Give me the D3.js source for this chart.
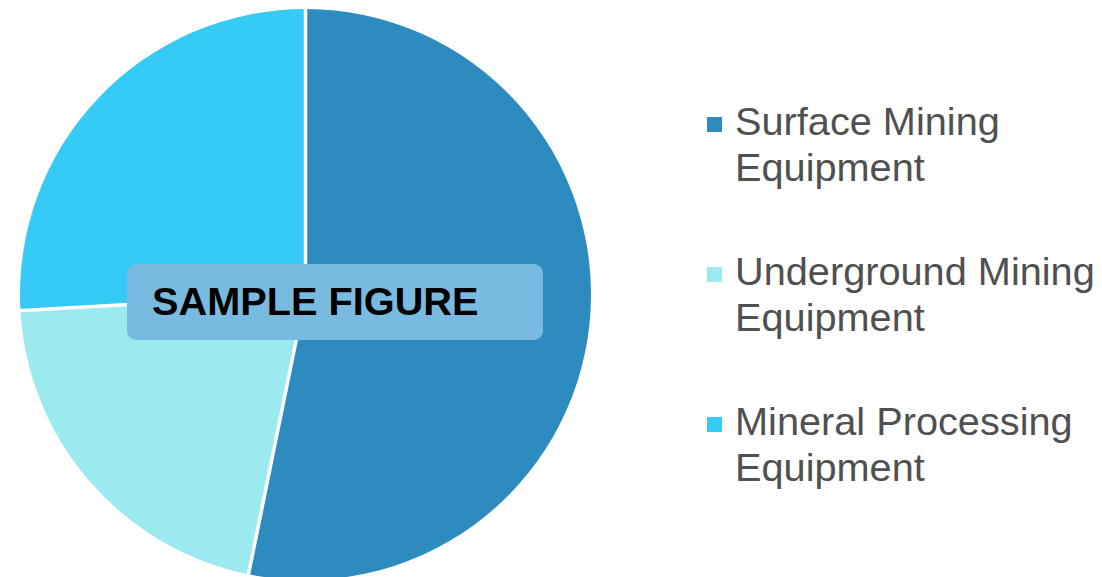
<!DOCTYPE html>
<html>
<head>
<meta charset="utf-8">
<script src="https://cdn.jsdelivr.net/npm/d3@7"></script>
<style>
html,body{margin:0;padding:0;background:#fff;}
svg{display:block;}
</style>
</head>
<body>
<svg id="chart" width="1102" height="577"></svg>
<script>
const categories = ["Surface Mining Equipment", "Underground Mining Equipment", "Mineral Processing Equipment"];
const legendLines = [["Surface Mining", "Equipment"], ["Underground Mining", "Equipment"], ["Mineral Processing", "Equipment"]];
const values = [53.2, 20.9, 25.9];
const colors = ["#2D8BBF", "#9BEAF0", "#36CBF6"];
const overlayText = "SAMPLE FIGURE";

const svg = d3.select("#chart");
const cx = 305.5, cy = 294.5, r = 285.5;
const stretch = 1.045;

const pie = d3.pie().sort(null).value(d => d);
const arc = d3.arc().innerRadius(0).outerRadius(r);
const color = d3.scaleOrdinal().domain(categories).range(colors);

const g = svg.append("g").attr("transform", `translate(${cx},${cy})`);
g.selectAll("path.slice")
  .data(pie(values))
  .join("path")
  .attr("class", "slice")
  .attr("d", arc)
  .attr("fill", (d, i) => color(categories[i]));

// slice separators (white lines from center)
g.selectAll("line.sep")
  .data(pie(values))
  .join("line")
  .attr("class", "sep")
  .attr("x1", 0).attr("y1", 0)
  .attr("x2", d => Math.sin(d.startAngle) * (r + 2))
  .attr("y2", d => -Math.cos(d.startAngle) * (r + 2))
  .attr("stroke", "#fff")
  .attr("stroke-width", 3.5);

// overlay label
const lab = svg.append("g");
lab.append("rect")
  .attr("x", 127).attr("y", 264).attr("width", 416).attr("height", 76)
  .attr("rx", 9).attr("ry", 9)
  .attr("fill", "#79BBE0");
lab.append("text")
  .attr("transform", `translate(152,315) scale(${stretch},1)`)
  .attr("font-family", "'Liberation Sans', Arial, sans-serif")
  .attr("font-weight", "bold")
  .attr("font-size", 38)
  .attr("fill", "#000")
  .text(overlayText);

// legend
const leg = svg.append("g").attr("transform", "translate(707,0)");
const items = leg.selectAll("g.item")
  .data(categories)
  .join("g")
  .attr("class", "item")
  .attr("transform", (d, i) => `translate(0,${135 + i * 150})`);
items.append("rect")
  .attr("x", 0).attr("y", -18).attr("width", 15).attr("height", 15)
  .attr("fill", d => color(d));
items.append("text")
  .attr("transform", `translate(28,0) scale(${stretch},1)`)
  .attr("font-family", "'Liberation Sans', Arial, sans-serif")
  .attr("font-size", 38)
  .attr("fill", "#505050")
  .selectAll("tspan")
  .data((d, i) => legendLines[i])
  .join("tspan")
  .attr("x", 0)
  .attr("dy", (d, j) => j === 0 ? 0 : 46.5)
  .text(d => d);
</script>
</body>
</html>
